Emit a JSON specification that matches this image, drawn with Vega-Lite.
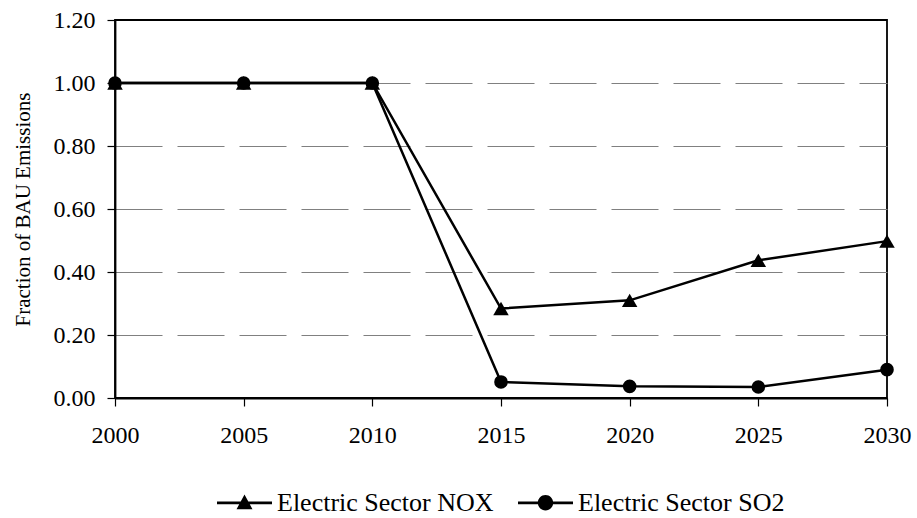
{
  "$schema": "https://vega.github.io/schema/vega-lite/v6.json",
  "width": 772,
  "height": 378,
  "autosize": "none",
  "padding": {"left": 115, "top": 20, "right": 30, "bottom": 120},
  "config": {
    "font": "Liberation Serif, Times New Roman, serif",
    "view": {"stroke": "black", "strokeWidth": 1.8},
    "axis": {"labelFontSize": 24, "titleFontSize": 21, "labelColor": "black", "titleColor": "black", "titleFontWeight": "normal", "domainColor": "black", "tickColor": "black", "domainWidth": 1.8, "tickWidth": 1.2, "tickSize": 8}
  },
  "data": {
    "values": [
      {"year": 2000, "series": "Electric Sector NOX", "value": 1.0},
      {"year": 2005, "series": "Electric Sector NOX", "value": 1.0},
      {"year": 2010, "series": "Electric Sector NOX", "value": 1.0},
      {"year": 2015, "series": "Electric Sector NOX", "value": 0.284},
      {"year": 2020, "series": "Electric Sector NOX", "value": 0.310},
      {"year": 2025, "series": "Electric Sector NOX", "value": 0.437},
      {"year": 2030, "series": "Electric Sector NOX", "value": 0.498},
      {"year": 2000, "series": "Electric Sector SO2", "value": 1.0},
      {"year": 2005, "series": "Electric Sector SO2", "value": 1.0},
      {"year": 2010, "series": "Electric Sector SO2", "value": 1.0},
      {"year": 2015, "series": "Electric Sector SO2", "value": 0.051},
      {"year": 2020, "series": "Electric Sector SO2", "value": 0.037},
      {"year": 2025, "series": "Electric Sector SO2", "value": 0.035},
      {"year": 2030, "series": "Electric Sector SO2", "value": 0.090}
    ]
  },
  "encoding": {
    "x": {"field": "year", "type": "quantitative", "scale": {"domain": [2000, 2030], "nice": false, "zero": false},
      "axis": {"values": [2000, 2005, 2010, 2015, 2020, 2025, 2030], "format": "d", "grid": false, "title": null, "labelPadding": 17, "labelFlush": false, "labelOverlap": false}},
    "y": {"field": "value", "type": "quantitative", "scale": {"domain": [0, 1.2], "nice": false},
      "axis": {"values": [0, 0.2, 0.4, 0.6, 0.8, 1.0, 1.2], "format": ".2f", "title": "Fraction of BAU Emissions", "titlePadding": 20, "labelPadding": 12, "labelFlush": false,
        "grid": true, "gridColor": "#808080", "gridDash": [47, 15], "gridWidth": 1.2,
        "gridOpacity": {"condition": {"test": "datum.value > 1.1 || datum.value < 0.01", "value": 0}, "value": 1}}}
  },
  "layer": [
    {"mark": {"type": "line", "color": "black", "strokeWidth": 2.5},
     "encoding": {"detail": {"field": "series"}}},
    {"mark": {"type": "point", "filled": true, "color": "black", "opacity": 1},
     "encoding": {
       "shape": {"field": "series", "type": "nominal", "scale": {"domain": ["Electric Sector NOX", "Electric Sector SO2"], "range": ["triangle-up", "circle"]}, "legend": null},
       "size": {"field": "series", "type": "nominal", "scale": {"domain": ["Electric Sector NOX", "Electric Sector SO2"], "range": [240, 185]}, "legend": null}}},
    {"mark": {"type": "point", "filled": true, "color": "black", "opacity": 0, "size": 10},
     "encoding": {"shape": {"field": "series", "type": "nominal",
       "scale": {"domain": ["Electric Sector NOX", "Electric Sector SO2"], "range": [
         "M-1,-0.05 L1,-0.05 L1,0.05 L-1,0.05 Z M0,-0.3 L0.29,0.24 L-0.29,0.24 Z",
         "M-1,-0.05 L1,-0.05 L1,0.05 L-1,0.05 Z M-0.28,0 A0.28,0.28 0 1,1 0.28,0 A0.28,0.28 0 1,1 -0.28,0 Z"]},
       "legend": {"title": null, "orient": "none", "direction": "horizontal", "legendX": 102, "legendY": 455,
         "symbolSize": 3025, "symbolOpacity": 1, "symbolFillColor": "black", "symbolStrokeWidth": 0,
         "labelFontSize": 26, "labelColor": "black", "labelOffset": 5, "columnPadding": 24, "labelLimit": 400}}}}
  ],
  "resolve": {"scale": {"shape": "independent", "size": "independent"}, "legend": {"shape": "independent"}}
}
